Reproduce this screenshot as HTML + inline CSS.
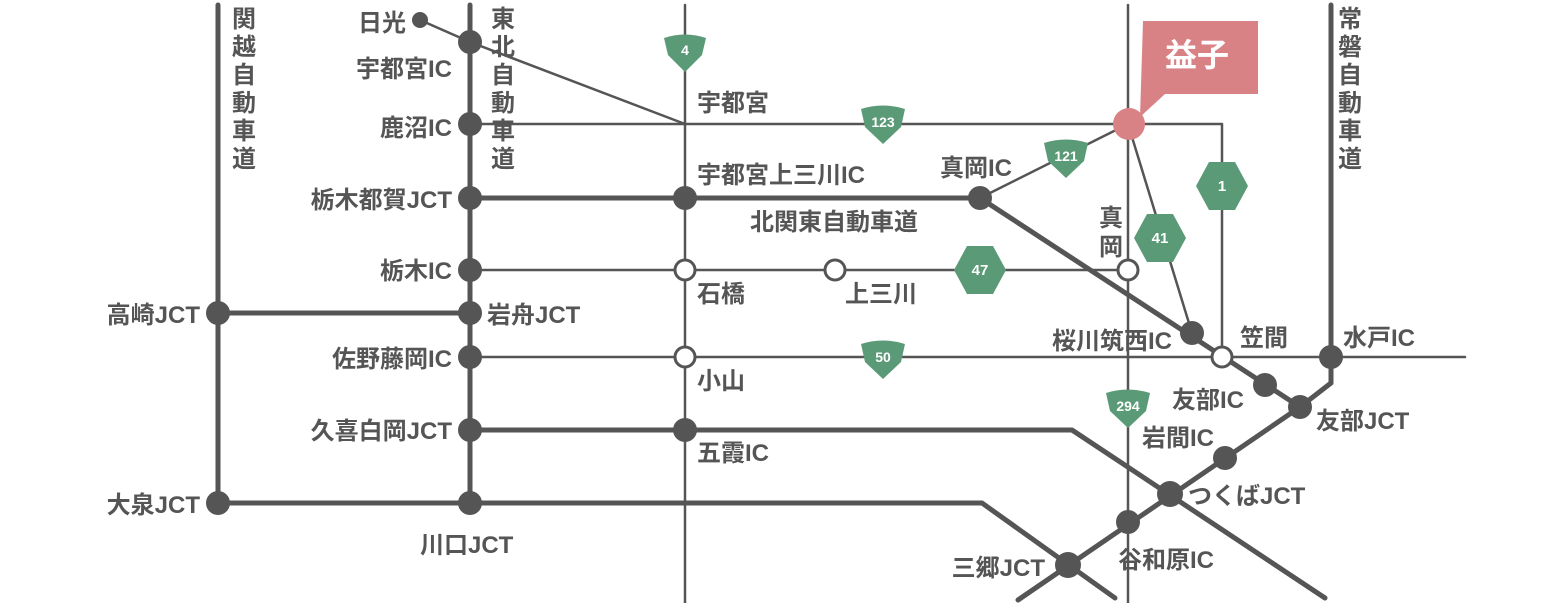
<!DOCTYPE html>
<html><head><meta charset="utf-8"><style>
html,body{margin:0;padding:0;background:#fff;}
svg{display:block;}
text{font-family:"Liberation Sans","Noto Sans CJK JP",sans-serif;font-weight:bold;fill:#555;font-size:24px;}
.w{fill:#fff;font-size:14px;text-anchor:middle;}
.e{text-anchor:end;}
</style></head><body>
<svg width="1560" height="603" viewBox="0 0 1560 603" xmlns="http://www.w3.org/2000/svg">
<g stroke="#555" fill="none" stroke-linecap="round" stroke-linejoin="round">
<g stroke-width="2.5">
<line x1="685" y1="5" x2="685" y2="603"/>
<line x1="1128" y1="5" x2="1128" y2="603"/>
<polyline points="470,124 1222,124 1222,357"/>
<polyline points="420,20 470,42 685,124"/>
<line x1="1128" y1="124" x2="980" y2="198"/>
<line x1="1128" y1="124" x2="1192" y2="333"/>
<line x1="470" y1="270" x2="1128" y2="270"/>
<line x1="470" y1="357" x2="1465" y2="357"/>
</g>
<g stroke-width="5">
<line x1="218" y1="5" x2="218" y2="503"/>
<line x1="470" y1="5" x2="470" y2="503"/>
<line x1="1331" y1="5" x2="1331" y2="383"/>
<polyline points="470,198 980,198 1300,407"/>
<line x1="218" y1="313" x2="470" y2="313"/>
<polyline points="470,430 1072,430 1325,598"/>
<polyline points="218,503 982,503 1115,598"/>
<polyline points="1331,383 1300,407 1018,600"/>
</g>
</g>
<g fill="#555">
<circle cx="420" cy="20" r="8"/>
<circle cx="470" cy="42" r="12"/><circle cx="470" cy="124" r="12"/><circle cx="470" cy="198" r="12"/>
<circle cx="685" cy="198" r="12"/><circle cx="980" cy="198" r="12"/><circle cx="470" cy="270" r="12"/>
<circle cx="218" cy="313" r="12"/><circle cx="470" cy="313" r="12"/><circle cx="470" cy="357" r="12"/>
<circle cx="470" cy="430" r="12"/><circle cx="685" cy="430" r="12"/><circle cx="218" cy="503" r="12"/>
<circle cx="470" cy="503" r="12"/><circle cx="1192" cy="333" r="12"/><circle cx="1265" cy="385" r="12"/>
<circle cx="1300" cy="407" r="12"/><circle cx="1331" cy="357" r="12"/><circle cx="1225" cy="458" r="12"/>
<circle cx="1170" cy="494" r="13"/><circle cx="1128" cy="522" r="12"/><circle cx="1068" cy="565" r="13"/>
</g>
<g fill="#fff" stroke="#555" stroke-width="3">
<circle cx="685" cy="270" r="10"/><circle cx="835" cy="270" r="10"/><circle cx="1128" cy="270" r="10"/>
<circle cx="685" cy="357" r="10"/><circle cx="1222" cy="357" r="10"/>
</g>
<path d="M1143,21 L1258,21 L1258,94 L1165,94 L1140,117 Z" fill="#d98286"/>
<circle cx="1129" cy="124" r="16" fill="#d98286"/>
<text x="1197" y="66" style="fill:#fff;font-size:32px;text-anchor:middle">益子</text>
<g fill="#5b9a76">
<path d="M664,38 Q685,31 706,38 L702,55 L685,72 L668,55 Z"/>
<path d="M861,109 Q883,102 905,109 L901,127 L883,144 L865,127 Z"/>
<path d="M1044,143 Q1066,136 1088,143 L1084,161 L1066,178 L1048,161 Z"/>
<path d="M1106,393 Q1128,386 1150,393 L1146,411 L1128,428 L1110,411 Z"/>
<path d="M861,344 Q883,337 905,344 L901,362 L883,379 L865,362 Z"/>
<polygon points="1209,162 1235,162 1248,186 1235,210 1209,210 1196,186"/>
<polygon points="1147,214 1173,214 1186,238 1173,262 1147,262 1134,238"/>
<polygon points="967,246 993,246 1006,270 993,294 967,294 954,270"/>
</g>
<text class="w" x="685" y="55">4</text>
<text class="w" x="883" y="127">123</text>
<text class="w" x="1066" y="161">121</text>
<text class="w" x="1128" y="411">294</text>
<text class="w" x="883" y="362">50</text>
<text class="w" x="1222" y="191" style="font-size:15px">1</text>
<text class="w" x="1160" y="243" style="font-size:15px">41</text>
<text class="w" x="980" y="275" style="font-size:15px">47</text>
<g style="font-size:25px;text-anchor:middle">
<text x="244" y="27">関</text><text x="244" y="55">越</text><text x="244" y="83">自</text><text x="244" y="111">動</text><text x="244" y="139">車</text><text x="244" y="167">道</text>
<text x="503" y="27">東</text><text x="503" y="55">北</text><text x="503" y="83">自</text><text x="503" y="111">動</text><text x="503" y="139">車</text><text x="503" y="167">道</text>
<text x="1350" y="27">常</text><text x="1350" y="55">磐</text><text x="1350" y="83">自</text><text x="1350" y="111">動</text><text x="1350" y="139">車</text><text x="1350" y="167">道</text>
<text x="1111" y="226">真</text><text x="1111" y="255">岡</text>
</g>
<text class="e" x="406" y="31">日光</text>
<text class="e" x="452" y="77">宇都宮IC</text>
<text class="e" x="452" y="136">鹿沼IC</text>
<text class="e" x="452" y="208">栃木都賀JCT</text>
<text class="e" x="452" y="279">栃木IC</text>
<text class="e" x="200" y="323">高崎JCT</text>
<text x="487" y="323">岩舟JCT</text>
<text class="e" x="452" y="367">佐野藤岡IC</text>
<text class="e" x="452" y="439">久喜白岡JCT</text>
<text class="e" x="200" y="513">大泉JCT</text>
<text x="420" y="553">川口JCT</text>
<text x="697" y="111">宇都宮</text>
<text x="697" y="183">宇都宮上三川IC</text>
<text x="750" y="230">北関東自動車道</text>
<text x="940" y="176">真岡IC</text>
<text x="697" y="302">石橋</text>
<text x="845" y="302">上三川</text>
<text x="697" y="389">小山</text>
<text x="697" y="461">五霞IC</text>
<text class="e" x="1172" y="349">桜川筑西IC</text>
<text x="1240" y="346">笠間</text>
<text x="1343" y="346">水戸IC</text>
<text x="1172" y="408">友部IC</text>
<text x="1316" y="429">友部JCT</text>
<text x="1142" y="446">岩間IC</text>
<text x="1188" y="504">つくばJCT</text>
<text x="1118" y="568">谷和原IC</text>
<text class="e" x="1045" y="576">三郷JCT</text>
</svg>
</body></html>
